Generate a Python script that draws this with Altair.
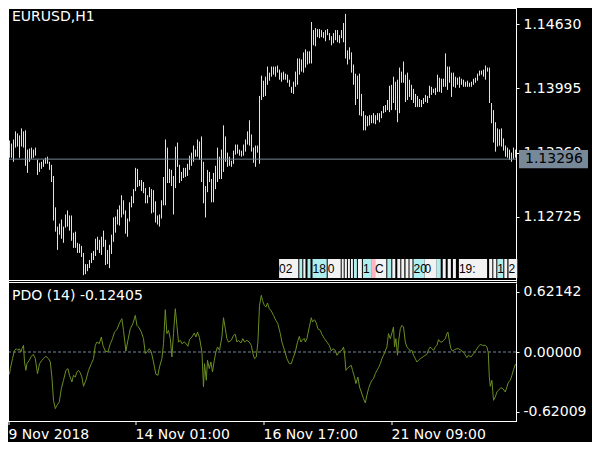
import altair as alt
import pandas as pd

# ---------------- data ----------------
high = [1.1348,1.1345,1.1349,1.1357,1.1355,1.1353,1.1360,1.1357,1.1358,1.1339,
1.1340,1.1341,1.1339,1.1341,1.1329,1.1326,1.1327,1.1329,1.1331,1.1332,
1.1327,1.1324,1.1313,1.1282,1.1263,1.1266,1.1270,1.1263,1.1275,1.1279,
1.1274,1.1274,1.1257,1.1258,1.1247,1.1246,1.1244,1.1237,1.1226,1.1226,
1.1230,1.1237,1.1239,1.1251,1.1253,1.1250,1.1253,1.1259,1.1250,1.1240,
1.1245,1.1255,1.1272,1.1273,1.1280,1.1284,1.1294,1.1289,1.1279,1.1271,
1.1287,1.1293,1.1300,1.1321,1.1320,1.1309,1.1309,1.1307,1.1301,1.1294,
1.1302,1.1300,1.1299,1.1288,1.1274,1.1275,1.1289,1.1312,1.1349,1.1341,
1.1320,1.1319,1.1313,1.1342,1.1346,1.1324,1.1317,1.1321,1.1321,1.1325,
1.1333,1.1336,1.1343,1.1339,1.1349,1.1347,1.1352,1.1327,1.1303,1.1319,
1.1317,1.1310,1.1316,1.1323,1.1341,1.1332,1.1339,1.1363,1.1352,1.1336,
1.1332,1.1328,1.1338,1.1344,1.1344,1.1339,1.1338,1.1344,1.1349,1.1357,
1.1368,1.1354,1.1341,1.1343,1.1343,1.1392,1.1412,1.1407,1.1411,1.1421,
1.1415,1.1421,1.1421,1.1421,1.1422,1.1418,1.1415,1.1416,1.1414,1.1413,
1.1408,1.1401,1.1406,1.1416,1.1429,1.1429,1.1428,1.1435,1.1438,1.1436,
1.1436,1.1465,1.1457,1.1459,1.1458,1.1458,1.1457,1.1455,1.1457,1.1458,
1.1454,1.1451,1.1454,1.1457,1.1457,1.1452,1.1457,1.1464,1.1473,1.1437,
1.1440,1.1435,1.1423,1.1414,1.1412,1.1414,1.1394,1.1377,1.1373,1.1372,
1.1373,1.1373,1.1375,1.1373,1.1375,1.1375,1.1377,1.1382,1.1383,1.1388,
1.1402,1.1403,1.1411,1.1406,1.1408,1.1420,1.1416,1.1426,1.1413,1.1415,
1.1408,1.1403,1.1399,1.1394,1.1392,1.1389,1.1388,1.1390,1.1393,1.1392,
1.1402,1.1401,1.1399,1.1400,1.1413,1.1410,1.1409,1.1409,1.1434,1.1421,
1.1421,1.1415,1.1415,1.1411,1.1410,1.1411,1.1409,1.1408,1.1406,1.1407,
1.1405,1.1406,1.1409,1.1410,1.1414,1.1417,1.1417,1.1418,1.1422,1.1420,
1.1420,1.1385,1.1378,1.1366,1.1360,1.1359,1.1360,1.1350,1.1343,1.1341,
1.1339,1.1336,1.1341,1.1339]

low = [1.1331,1.1331,1.1327,1.1341,1.1342,1.1331,1.1342,1.1341,1.1323,1.1316,
1.1327,1.1330,1.1331,1.1333,1.1314,1.1317,1.1320,1.1322,1.1325,1.1325,
1.1319,1.1307,1.1269,1.1258,1.1240,1.1255,1.1251,1.1247,1.1262,1.1263,
1.1259,1.1249,1.1242,1.1242,1.1237,1.1237,1.1233,1.1215,1.1216,1.1219,
1.1222,1.1227,1.1230,1.1234,1.1240,1.1237,1.1235,1.1243,1.1225,1.1226,
1.1222,1.1236,1.1248,1.1257,1.1265,1.1264,1.1272,1.1275,1.1256,1.1253,
1.1268,1.1282,1.1286,1.1298,1.1302,1.1303,1.1298,1.1296,1.1286,1.1286,
1.1292,1.1276,1.1277,1.1267,1.1265,1.1263,1.1271,1.1284,1.1284,1.1306,
1.1306,1.1303,1.1275,1.1301,1.1322,1.1306,1.1308,1.1311,1.1312,1.1313,
1.1319,1.1323,1.1327,1.1332,1.1332,1.1329,1.1307,1.1286,1.1272,1.1297,
1.1307,1.1287,1.1287,1.1300,1.1307,1.1310,1.1310,1.1317,1.1327,1.1322,
1.1323,1.1322,1.1325,1.1334,1.1335,1.1333,1.1332,1.1333,1.1337,1.1344,
1.1343,1.1337,1.1326,1.1322,1.1336,1.1325,1.1388,1.1391,1.1392,1.1403,
1.1407,1.1411,1.1413,1.1411,1.1415,1.1408,1.1406,1.1408,1.1408,1.1405,
1.1401,1.1395,1.1394,1.1401,1.1403,1.1413,1.1416,1.1415,1.1420,1.1423,
1.1424,1.1424,1.1442,1.1441,1.1450,1.1449,1.1450,1.1449,1.1446,1.1452,
1.1447,1.1442,1.1444,1.1447,1.1445,1.1444,1.1449,1.1445,1.1429,1.1423,
1.1428,1.1415,1.1403,1.1383,1.1389,1.1373,1.1372,1.1358,1.1358,1.1362,
1.1363,1.1365,1.1365,1.1364,1.1368,1.1366,1.1370,1.1375,1.1376,1.1378,
1.1376,1.1378,1.1385,1.1378,1.1366,1.1375,1.1405,1.1405,1.1386,1.1388,
1.1391,1.1388,1.1385,1.1381,1.1381,1.1381,1.1381,1.1384,1.1386,1.1385,
1.1390,1.1393,1.1395,1.1393,1.1396,1.1396,1.1395,1.1401,1.1401,1.1398,
1.1405,1.1391,1.1401,1.1400,1.1403,1.1400,1.1403,1.1401,1.1401,1.1401,
1.1401,1.1401,1.1403,1.1405,1.1407,1.1412,1.1413,1.1411,1.1408,1.1416,
1.1385,1.1365,1.1346,1.1337,1.1342,1.1343,1.1342,1.1338,1.1332,1.1331,
1.1329,1.1327,1.1330,1.1331]

bars = list(range(len(high)))

pdo_x = [0.0,0.4,1.5,2.5,3.4,4.2,4.9,5.7,6.2,7.0,
7.5,8.2,8.7,9.9,10.9,11.9,12.9,14.0,15.0,16.2,
17.4,18.2,19.5,20.4,21.2,22.0,22.9,23.7,24.9,25.9,
27.0,28.2,29.2,30.0,31.2,32.0,32.9,33.7,34.5,35.4,
36.2,37.0,38.2,39.5,40.9,42.0,42.9,43.7,44.9,45.9,
46.7,47.9,49.2,50.4,51.5,52.5,53.7,55.0,56.2,57.0,
58.2,59.2,60.4,61.7,62.9,63.7,64.5,65.9,67.0,67.9,
68.7,69.9,70.9,72.0,73.2,74.2,75.0,76.2,77.0,77.9,
78.7,79.5,80.4,81.2,82.0,82.9,83.7,84.5,85.4,86.2,
87.4,88.4,89.2,90.0,91.2,92.4,93.2,94.0,95.0,96.2,
97.0,97.5,98.4,99.0,99.9,100.7,101.5,102.4,103.2,104.0,
105.0,106.2,107.0,107.9,108.7,109.5,110.9,112.0,112.9,113.7,
114.5,115.7,116.7,117.5,118.7,119.9,120.9,121.7,122.5,123.4,
124.2,125.0,125.9,126.5,127.4,128.2,129.0,129.9,130.9,132.0,
133.2,134.2,135.4,136.2,137.5,138.7,139.9,140.9,141.7,142.9,
144.0,144.9,145.7,146.5,147.5,
147.9,148.7,149.9,150.9,151.5,152.5,153.4,154.2,155.4,156.2,
157.5,158.7,159.9,160.9,161.7,162.9,163.7,164.5,165.4,166.2,
167.0,167.5,168.2,169.2,170.2,170.9,171.5,172.5,173.2,174.2,
175.0,175.9,177.0,177.9,178.7,179.5,180.4,181.2,182.0,182.9,
183.7,184.5,185.4,186.2,187.0,187.9,188.7,189.5,190.4,191.2,
192.0,192.5,193.2,194.0,194.5,195.4,196.2,197.0,197.9,198.7,
199.5,200.4,201.2,202.0,202.9,203.7,204.5,205.4,206.2,207.0,
207.9,208.7,209.5,210.4,211.2,212.0,212.9,213.7,214.5,215.4,
216.2,217.0,217.9,218.7,219.2,219.9,220.7,221.5,222.5,223.7,
224.5,225.4,226.2,227.5,228.7,229.5,230.7,232.0,233.2,234.5,
235.4,236.5,237.9,238.7,239.4,239.9,240.4,241.2,242.0,242.9,
243.7,244.5,245.7,246.7,247.9,248.7,249.5,250.4,251.2,252.0,
253.0]

pdo_v = [-0.231,-0.172,-0.069,0.017,0.034,0.017,0.034,0.0,0.034,0.069,
-0.103,-0.190,-0.121,-0.086,-0.045,-0.024,-0.069,-0.224,-0.121,-0.086,
-0.059,-0.045,-0.069,-0.103,-0.259,-0.500,-0.586,-0.552,-0.517,-0.379,
-0.293,-0.190,-0.172,-0.241,-0.310,-0.241,-0.259,-0.207,-0.190,-0.217,
-0.259,-0.355,-0.293,-0.190,-0.121,-0.069,0.069,0.103,0.086,0.155,
0.069,0.010,0.0,0.086,0.138,0.207,0.231,0.300,0.345,0.224,
0.010,0.121,0.241,0.293,0.379,0.276,0.259,0.207,0.138,-0.017,
0.0,0.034,0.0,-0.103,-0.231,-0.241,-0.155,-0.069,0.086,0.438,
0.190,0.224,0.138,-0.052,0.190,0.448,0.276,0.103,0.121,0.086,
0.103,0.086,0.059,0.128,0.155,0.196,0.155,0.207,0.148,0.0,
-0.362,-0.121,-0.293,-0.086,-0.172,-0.103,-0.207,-0.086,0.0,0.052,
0.017,0.155,0.355,0.241,0.138,0.103,0.121,0.172,0.183,0.103,
0.121,0.093,0.138,0.103,0.121,0.103,0.069,-0.017,-0.069,-0.052,
0.103,0.483,0.586,0.534,0.483,0.465,0.507,0.448,0.424,0.379,
0.327,0.293,0.190,0.103,0.017,-0.069,-0.121,-0.121,-0.069,0.0,
0.103,0.162,0.103,0.128,0.138,
0.103,0.138,0.259,0.355,0.310,0.334,0.300,0.241,0.224,0.183,
0.138,0.103,0.069,0.010,0.034,0.017,-0.034,-0.010,0.010,0.017,
0.052,-0.010,-0.190,-0.162,-0.148,-0.138,-0.190,-0.259,-0.327,-0.259,
-0.362,-0.414,-0.483,-0.527,-0.448,-0.379,-0.327,-0.293,-0.276,-0.224,
-0.190,-0.162,-0.121,-0.069,-0.034,0.010,0.052,0.190,0.138,0.196,
0.259,0.052,0.138,-0.034,0.103,0.241,0.276,0.259,0.103,0.052,
0.034,0.010,0.017,-0.034,-0.069,-0.103,-0.086,-0.069,-0.059,-0.045,
-0.034,-0.024,0.024,0.052,0.034,0.017,0.052,0.069,0.128,0.103,
0.103,0.121,0.138,0.190,0.207,0.121,0.034,0.010,0.024,0.034,
0.034,0.024,0.010,-0.017,-0.059,-0.034,-0.052,-0.017,0.017,0.059,
0.079,0.069,0.069,0.052,-0.010,-0.259,-0.355,-0.293,-0.500,-0.465,
-0.414,-0.396,-0.369,-0.379,-0.414,-0.362,-0.310,-0.293,-0.241,-0.183,
-0.124]

tick_bars = [-0.5, 63, 127, 191]
tick_text = ["9 Nov 2018", "14 Nov 01:00", "16 Nov 17:00", "21 Nov 09:00"]
price_ticks = [1.12725, 1.13360, 1.13995, 1.14630]
pdo_ticks = [-0.62009, 0.0, 0.62142]
current_price = 1.13296
pdo_last = -0.12405
symbol_title = "EURUSD,H1"
pdo_title = "PDO (14)"

# time-label objects along the bottom of the price window
box_s = [134.8,144.9,146.9,149.0,151.5,159.1,166.1,167.6,169.2,170.7,172.2,174.2,176.7,
         180.8,182.8,188.9,191.4,193.9,195.9,198.0,200.0,202.0,207.5,213.6,216.6,219.1,
         221.7,224.7,239.8,241.9,243.9,247.4,249.5]
box_e = [144.4,146.4,148.0,150.5,158.6,165.6,167.1,168.7,170.2,171.7,173.7,176.2,180.8,
         182.8,188.4,190.9,192.9,195.4,197.4,199.5,201.5,207.5,213.6,215.6,218.1,220.7,
         223.2,238.8,241.4,243.4,246.9,248.9,253.9]
box_t = ["02","","","","18","0","","","","","","","1","","C","","","","","","","20","0",
         "","","","","19:","","","1","","2"]
box_f = ["w","c","w","c","c","w","w","w","w","w","c","w","c","p","w","c","w","w","w","w",
         "w","c","w","c","w","w","w","w","w","w","c","w","w"]

# ---------------- chart ----------------
FONT = "DejaVu Sans"
BOX_FONT = "Liberation Sans"
W, H = 508, 413
TOTAL_W, TOTAL_H = 584, 434
NB = len(high) - 1


def jsnum(v):
    s = repr(float(v))
    return s[:-2] if s.endswith(".0") else s


def label_expr(vals, labels):
    parts = [f"datum.value == {jsnum(v)} ? '{t}'" for v, t in zip(vals, labels)]
    return " : ".join(parts) + " : ''"


# one bar every 2 px, each bar centred on a half pixel so that it is crisp
xs = alt.Scale(domain=[-0.5, NB], range=[0.5, 1.5 + 2 * NB], nice=False, zero=False)
ps = alt.Scale(domain=[1.12093, 1.14788], range=[273, 0], nice=False, zero=False)
qs = alt.Scale(domain=[-0.714, 0.714], range=[413, 275], nice=False, zero=False)

axis_common = dict(title=None, grid=False, labelColor="white", tickColor="white",
                   domainColor="white", labelFont=FONT, labelFontSize=14,
                   labelOverlap=False, labelFlush=False, labelBound=False)

x_axis = alt.Axis(values=tick_bars, labelExpr=label_expr(tick_bars, tick_text),
                  tickSize=4, labelPadding=3, labelAlign="left", labelBaseline="top",
                  domain=False, translate=0, **axis_common)
price_axis = alt.Axis(orient="right", values=price_ticks,
                      labelExpr=label_expr(price_ticks, [f"{v:.5f}" for v in price_ticks]),
                      tickSize=3, labelPadding=4, **axis_common)
pdo_axis = alt.Axis(orient="right", values=pdo_ticks,
                    labelExpr=label_expr(pdo_ticks, [f"{v:.5f}" for v in pdo_ticks]),
                    tickSize=3, labelPadding=4, **axis_common)

bar_df = pd.DataFrame({"bar": bars, "high": high, "low": low})
pdo_df = pd.DataFrame({"bar": pdo_x, "pdo": pdo_v})
box_df = pd.DataFrame({"s": box_s, "e": box_e, "t": box_t, "f": box_f})
one = pd.DataFrame({"a": [0]})

price_bars = alt.Chart(bar_df).mark_rule(color="#FFFF00", strokeWidth=1, clip=True).encode(
    x=alt.X("bar:Q", scale=xs, axis=x_axis),
    y=alt.Y("low:Q", scale=ps, axis=price_axis),
    y2="high:Q",
)

cur_df = pd.DataFrame({"p": [current_price], "hi": [current_price + 0.00089],
                       "lo": [current_price - 0.00089], "lab": [f"{current_price:.5f}"]})
cur_line = alt.Chart(cur_df).mark_rule(color="#778899", strokeWidth=1).encode(
    x=alt.value(0), x2=alt.value(W), y=alt.Y("p:Q", scale=ps, axis=None))
cur_box = alt.Chart(cur_df).mark_rect(color="#778899").encode(
    x=alt.value(511), x2=alt.value(580), y=alt.Y("hi:Q", scale=ps, axis=None), y2="lo:Q")
cur_text = alt.Chart(cur_df).mark_text(align="left", baseline="middle", font=FONT, fontSize=14,
                                       color="black").encode(
    x=alt.value(517), y=alt.Y("p:Q", scale=ps, axis=None), text="lab:N")

zero_df = pd.DataFrame({"v": [0.0]})
zero_line = alt.Chart(zero_df).mark_rule(color="#778899", strokeWidth=1, strokeDash=[3, 2]).encode(
    x=alt.value(0), x2=alt.value(W), y=alt.Y("v:Q", scale=qs, axis=None))

pdo_line = alt.Chart(pdo_df).mark_line(color="#6B8E23", strokeWidth=1, clip=True).encode(
    x=alt.X("bar:Q", scale=xs, axis=x_axis),
    y=alt.Y("pdo:Q", scale=qs, axis=pdo_axis),
)

boxes = alt.Chart(box_df).mark_rect().encode(
    x=alt.X("s:Q", scale=xs, axis=x_axis), x2="e:Q",
    y=alt.value(251), y2=alt.value(270),
    fill=alt.Fill("f:N", scale=alt.Scale(domain=["w", "c", "p"],
                                         range=["#F2F2F2", "#AFEEEE", "#FFB6C1"]), legend=None),
)
box_text = alt.Chart(box_df).mark_text(align="left", baseline="middle", dx=0, font=BOX_FONT,
                                       fontSize=12, color="black").encode(
    x=alt.X("s:Q", scale=xs, axis=x_axis), y=alt.value(261), text="t:N")

left_border = alt.Chart(one).mark_rule(color="white", strokeWidth=1).encode(
    x=alt.value(0.5), y=alt.value(0), y2=alt.value(414))
top_border = alt.Chart(one).mark_rule(color="white", strokeWidth=1).encode(
    y=alt.value(0.5), x=alt.value(0), x2=alt.value(W + 1))
bottom_border = alt.Chart(one).mark_rule(color="white", strokeWidth=1).encode(
    y=alt.value(413.5), x=alt.value(0), x2=alt.value(W + 1))
sep1 = alt.Chart(one).mark_rule(color="white", strokeWidth=1).encode(
    y=alt.value(272.5), x=alt.value(0), x2=alt.value(W + 1))
sep2 = alt.Chart(one).mark_rule(color="white", strokeWidth=1).encode(
    y=alt.value(274.5), x=alt.value(0), x2=alt.value(W + 1))

title1 = alt.Chart(pd.DataFrame({"t": [symbol_title]})).mark_text(
    align="left", baseline="alphabetic", font=FONT, fontSize=14, color="white").encode(
    x=alt.value(4), y=alt.value(13), text="t:N")
title2 = alt.Chart(pd.DataFrame({"t": [f"{pdo_title} {pdo_last:.5f}"]})).mark_text(
    align="left", baseline="alphabetic", font=FONT, fontSize=14, color="white").encode(
    x=alt.value(4), y=alt.value(292), text="t:N")

chart = alt.layer(
    price_bars, cur_line, zero_line, pdo_line, boxes, box_text,
    cur_box, cur_text, left_border, top_border, bottom_border, sep1, sep2, title1, title2,
).resolve_scale(y="independent").properties(
    width=W, height=H,
    autosize=alt.AutoSizeParams(type="none"),
    padding={"left": 0, "top": 0, "right": TOTAL_W - W, "bottom": TOTAL_H - H},
    background="black",
).configure_view(stroke=None)

chart.save("out.html", embed_options={"renderer": "svg", "actions": False})
